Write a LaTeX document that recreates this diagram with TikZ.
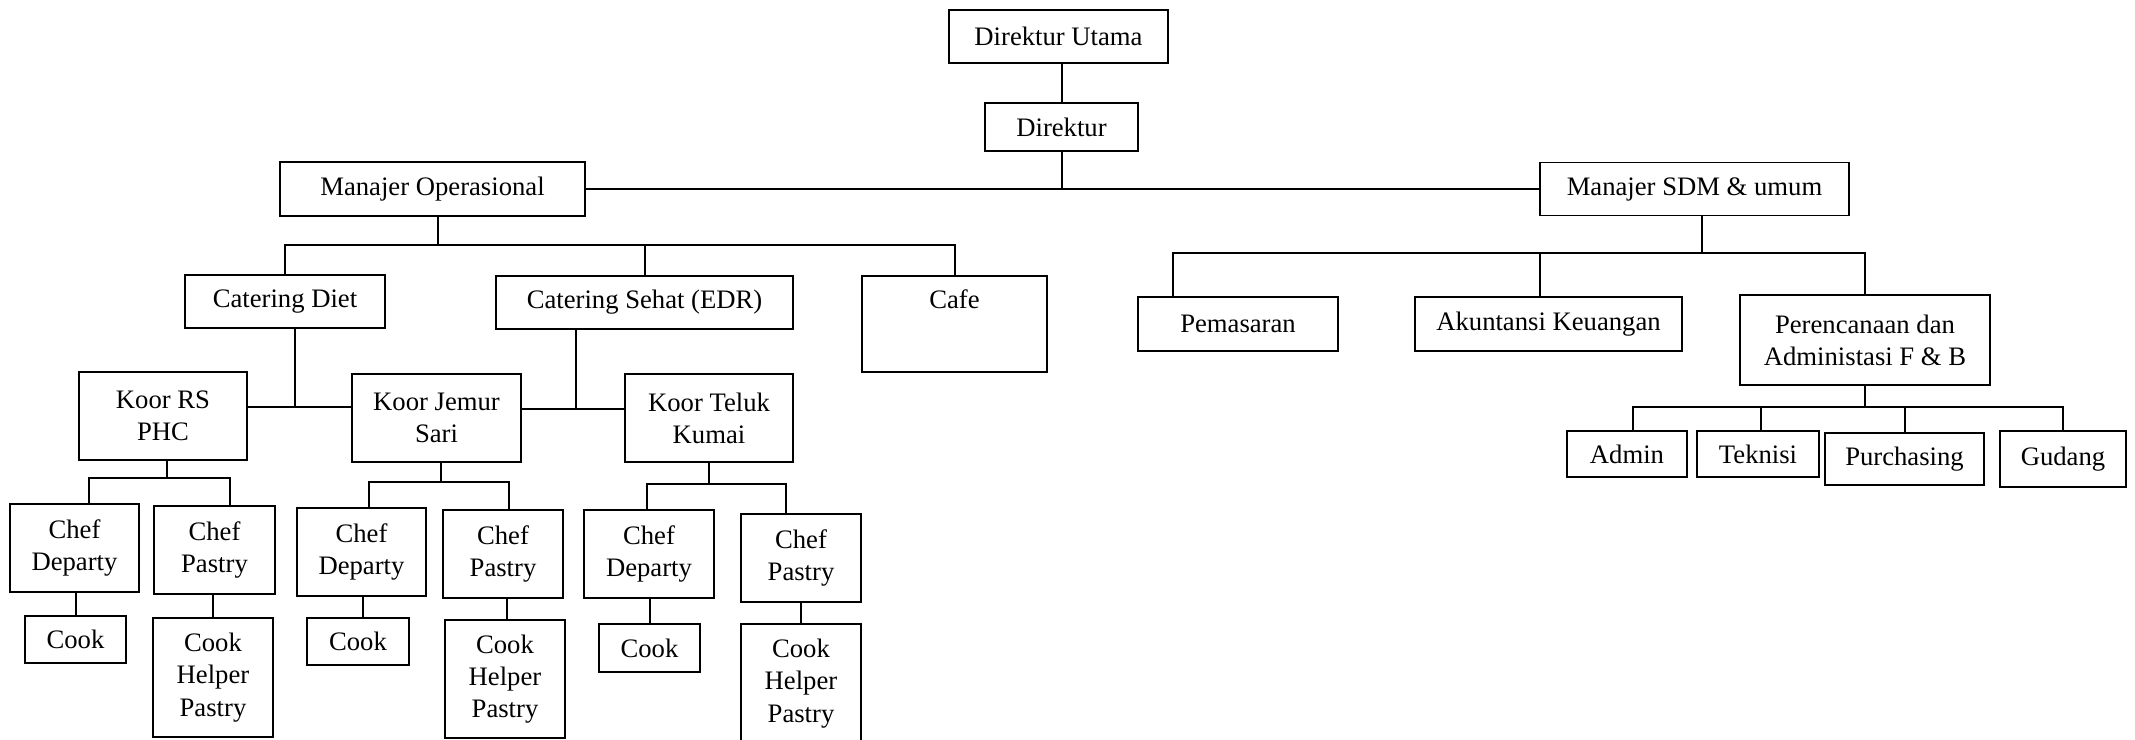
\documentclass[tikz,border=0pt]{standalone}
\usepackage{fontspec}
\setmainfont{Liberation Serif}
\usepackage{tikz}

\begin{document}
\begin{tikzpicture}[
    x=0.45pt, y=-0.45pt,
    orgbox/.style={
        rectangle,
        draw=black,
        line width=0.7pt,
        align=center,
        inner sep=0pt,
        font=\fontsize{12}{14.5}\selectfont
    },
    boxsize/.style 2 args={minimum width=#1*0.45pt, minimum height=#2*0.45pt},
    link/.style={line width=0.9pt, draw=black}
]

\useasboundingbox (0,0) rectangle (2135,739);

\node[orgbox, boxsize={219}{53}] (dirut) at (1058.5,36.5) {Direktur Utama};
\node[orgbox, boxsize={153}{48}] (direktur) at (1061.5,127) {Direktur};
\node[orgbox, boxsize={305}{54}] (manop) at (432.5,189) {Manajer Operasional};
\node[orgbox, boxsize={309}{53}] (mansdm) at (1694.5,189) {Manajer SDM \& umum};

\node[orgbox, boxsize={200}{53}] (diet) at (285,301.5) {Catering Diet};
\node[orgbox, boxsize={297}{53}] (sehat) at (644.5,302.5) {Catering Sehat (EDR)};
\node[orgbox, minimum width=185*0.45pt, text height=14.6pt, text depth=28.6pt,
    anchor=north] (cafe) at (954.5,275) {Cafe};

\node[orgbox, boxsize={200}{54}] (pemasaran) at (1238,324) {Pemasaran};
\node[orgbox, boxsize={267}{54}] (akuntansi) at (1548.5,324) {Akuntansi Keuangan};
\node[orgbox, boxsize={250}{90}] (perencanaan) at (1865,340) {Perencanaan dan\\Administasi F \& B};

\node[orgbox, boxsize={120}{46}] (admin) at (1627,454) {Admin};
\node[orgbox, boxsize={122}{46}] (teknisi) at (1758,454) {Teknisi};
\node[orgbox, boxsize={159}{52}] (purchasing) at (1904.5,459) {Purchasing};
\node[orgbox, boxsize={126}{56}] (gudang) at (2063,459) {Gudang};

\node[orgbox, boxsize={168}{88}] (koorrs) at (163,416) {Koor RS\\PHC};
\node[orgbox, boxsize={169}{88}] (koorjemur) at (436.5,418) {Koor Jemur\\Sari};
\node[orgbox, boxsize={168}{88}] (koorteluk) at (709,418) {Koor Teluk\\Kumai};

\node[orgbox, boxsize={129}{88}] (departyrs) at (74.5,548) {Chef\\Departy};
\node[orgbox, boxsize={121}{88}] (pastryrs) at (214.5,550) {Chef\\Pastry};
\node[orgbox, boxsize={101}{47}] (cookrs) at (75.5,639.5) {Cook};
\node[orgbox, boxsize={120}{119}] (helperrs) at (213,677.5) {Cook\\Helper\\Pastry};

\node[orgbox, boxsize={129}{88}] (departyjemur) at (361.5,552) {Chef\\Departy};
\node[orgbox, boxsize={120}{88}] (pastryjemur) at (503,554) {Chef\\Pastry};
\node[orgbox, boxsize={102}{47}] (cookjemur) at (358,641.5) {Cook};
\node[orgbox, boxsize={120}{118}] (helperjemur) at (505,679) {Cook\\Helper\\Pastry};

\node[orgbox, boxsize={130}{88}] (departyteluk) at (649,554) {Chef\\Departy};
\node[orgbox, boxsize={120}{88}] (pastryteluk) at (801,558) {Chef\\Pastry};
\node[orgbox, boxsize={101}{48}] (cookteluk) at (649.5,648) {Cook};
\node[orgbox, boxsize={120}{119}] (helperteluk) at (801,683.5) {Cook\\Helper\\Pastry};

\coordinate (opbus) at (438,245);
\coordinate (sdmbus) at (1702,253);
\coordinate (fbbus) at (1865,407);
\coordinate (dietjoin) at (295,407);
\coordinate (sehatjoin) at (576,409);
\coordinate (rsbus) at (167,478);
\coordinate (jemurbus) at (441,482);
\coordinate (telukbus) at (709,484);

\draw[link] (direktur.north) -- (direktur.north |- dirut.south);
\draw[link] (direktur.south) -- (direktur.south |- manop.east);
\draw[link] (manop) -- (mansdm);

\draw[link] (manop.south -| opbus) -- (opbus);
\draw[link] (diet.north) |- (opbus) -| (cafe.north);
\draw[link] (sehat.north) -- (sehat.north |- opbus);

\draw[link] (mansdm.south -| sdmbus) -- (sdmbus);
\draw[link] ([xshift=-29.25pt]pemasaran.north) |- (sdmbus) -| (perencanaan.north);
\draw[link] ([xshift=-3.8pt]akuntansi.north) -- ([xshift=-3.8pt]akuntansi.north |- sdmbus);

\draw[link] (perencanaan.south) -- (fbbus);
\draw[link] ([xshift=2.7pt]admin.north) |- (fbbus) -| (gudang.north);
\draw[link] ([xshift=1.35pt]teknisi.north) -- ([xshift=1.35pt]teknisi.north |- fbbus);
\draw[link] (purchasing.north) -- (purchasing.north |- fbbus);

\draw[link] (diet.south -| dietjoin) -- (dietjoin);
\draw[link] (koorrs.east |- dietjoin) -- (koorjemur.west |- dietjoin);
\draw[link] (sehat.south -| sehatjoin) -- (sehatjoin);
\draw[link] (koorjemur.east |- sehatjoin) -- (koorteluk.west |- sehatjoin);

\draw[link] (koorrs.south -| rsbus) -- (rsbus);
\draw[link] ([xshift=6.5pt]departyrs.north) |- (rsbus) -| ([xshift=7pt]pastryrs.north);
\draw[link] (cookrs.north) -- (cookrs.north |- departyrs.south);
\draw[link] (helperrs.north) -- (helperrs.north |- pastryrs.south);

\draw[link] (koorjemur.south -| jemurbus) -- (jemurbus);
\draw[link] ([xshift=3.4pt]departyjemur.north) |- (jemurbus) -| ([xshift=2.7pt]pastryjemur.north);
\draw[link] ([xshift=2.25pt]cookjemur.north) -- ([xshift=2.25pt]cookjemur.north |- departyjemur.south);
\draw[link] ([xshift=0.9pt]helperjemur.north) -- ([xshift=0.9pt]helperjemur.north |- pastryjemur.south);

\draw[link] (koorteluk.south) -- (telukbus);
\draw[link] ([xshift=-0.9pt]departyteluk.north) |- (telukbus) -| ([xshift=-6.75pt]pastryteluk.north);
\draw[link] (cookteluk.north) -- (cookteluk.north |- departyteluk.south);
\draw[link] (helperteluk.north) -- (helperteluk.north |- pastryteluk.south);

\end{tikzpicture}
\end{document}
